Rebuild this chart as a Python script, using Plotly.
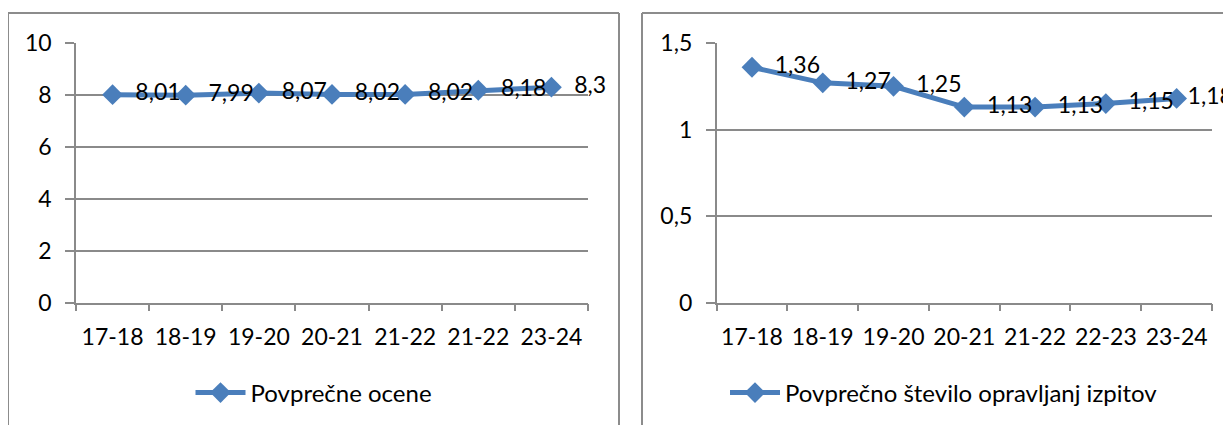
import plotly.graph_objects as go

# ---- data ----
categories_left = ["17-18", "18-19", "19-20", "20-21", "21-22", "21-22", "23-24"]
values_left = [8.01, 7.99, 8.07, 8.02, 8.02, 8.18, 8.3]
name_left = "Povprečne ocene"

categories_right = ["17-18", "18-19", "19-20", "20-21", "21-22", "22-23", "23-24"]
values_right = [1.36, 1.27, 1.25, 1.13, 1.13, 1.15, 1.18]
name_right = "Povprečno število opravljanj izpitov"

# The page body keeps its default 8px margin, so the figure is sized to the
# remaining viewport and all screen positions are converted with that offset.
OFF = 8
W, H = 1231 - OFF, 425 - OFF
BLUE = "#4A7EBB"
GRID = "#8A8A8A"
FONT = "Lato"
FS = 23
LFS = 24


def unique_keys(cats):
    seen = {}
    out = []
    for c in cats:
        k = seen.get(c, 0)
        out.append(c + "\u200b" * k)
        seen[c] = k + 1
    return out


def fmt(v, pad=2):
    return "\u00a0" * pad + f"{v:g}".replace(".", ",")


def px_x(p):
    return (p - OFF) / W


def px_y(p):
    return 1 - (p - OFF) / H


left_text = [fmt(v) for v in values_left]
right_text = [fmt(v) for v in values_right]
right_text[-1] = fmt(values_right[-1], pad=0)

fig = go.Figure()
fig.add_trace(go.Scatter(
    x=unique_keys(categories_left), y=values_left, name=name_left,
    mode="lines+markers+text", text=left_text,
    textposition="middle right", cliponaxis=False,
    textfont=dict(family=FONT, size=FS, color="#000000"),
    line=dict(color=BLUE, width=5),
    marker=dict(symbol="diamond", size=16, color=BLUE),
    xaxis="x", yaxis="y", legend="legend",
))
fig.add_trace(go.Scatter(
    x=unique_keys(categories_right), y=values_right, name=name_right,
    mode="lines+markers+text", text=right_text,
    textposition="middle right", cliponaxis=False,
    textfont=dict(family=FONT, size=FS, color="#000000"),
    line=dict(color=BLUE, width=5),
    marker=dict(symbol="diamond", size=16, color=BLUE),
    xaxis="x2", yaxis="y2", legend="legend2",
))

ydom = [px_y(302.7), px_y(43)]
common_x = dict(type="category", range=[-0.5, 6.5], showgrid=False, showline=True,
                linecolor=GRID, linewidth=1.5, ticks="outside", tickson="boundaries",
                ticklen=7, tickcolor=GRID, tickwidth=1.5, automargin=False,
                tickangle=0,
                tickfont=dict(family=FONT, size=FS, color="#000000"),
                ticklabelstandoff=13, fixedrange=True)
common_y = dict(showgrid=True, gridcolor=GRID, gridwidth=1.5, showline=True,
                linecolor=GRID, linewidth=1.5, ticks="outside", ticklen=9,
                tickcolor=GRID, tickwidth=1.5, zeroline=False, automargin=False,
                tickfont=dict(family=FONT, size=FS, color="#000000"),
                ticklabelstandoff=9, fixedrange=True)

fig.update_layout(
    width=W, height=H, margin=dict(l=0, r=0, t=0, b=0, autoexpand=False),
    paper_bgcolor="white", plot_bgcolor="white",
    separators=", ",
    font=dict(family=FONT, size=FS, color="#000000"),
    xaxis=dict(common_x, domain=[px_x(76), px_x(588)], anchor="y"),
    yaxis=dict(common_y, domain=ydom, range=[0, 10], tickvals=[0, 2, 4, 6, 8, 10], anchor="x"),
    xaxis2=dict(common_x, domain=[px_x(716.6), px_x(1212)], anchor="y2"),
    yaxis2=dict(common_y, domain=ydom, range=[0, 1.5], tickvals=[0, 0.5, 1, 1.5], anchor="x2"),
    legend=dict(x=px_x(314), y=px_y(393), xanchor="center", yanchor="middle",
                font=dict(family=FONT, size=LFS, color="#000000"), itemwidth=50,
                bgcolor="rgba(0,0,0,0)"),
    legend2=dict(x=px_x(944), y=px_y(393), xanchor="center", yanchor="middle",
                 font=dict(family=FONT, size=LFS, color="#000000"), itemwidth=50,
                 bgcolor="rgba(0,0,0,0)"),
    showlegend=True,
)

# chart-area borders (Excel-style frames)
border = dict(color="#8C8C8C", width=2)
shapes = [
    # left panel: top, left, right
    dict(type="line", xref="paper", yref="paper", x0=px_x(8), x1=px_x(619), y0=px_y(13), y1=px_y(13), line=border),
    dict(type="line", xref="paper", yref="paper", x0=px_x(8), x1=px_x(8), y0=px_y(13), y1=px_y(440), line=border),
    dict(type="line", xref="paper", yref="paper", x0=px_x(619), x1=px_x(619), y0=px_y(13), y1=px_y(440), line=border),
    # right panel: top, left
    dict(type="line", xref="paper", yref="paper", x0=px_x(642), x1=px_x(1250), y0=px_y(13), y1=px_y(13), line=border),
    dict(type="line", xref="paper", yref="paper", x0=px_x(642), x1=px_x(642), y0=px_y(13), y1=px_y(440), line=border),
]
fig.update_layout(shapes=shapes)

fig.write_html("out.html")
